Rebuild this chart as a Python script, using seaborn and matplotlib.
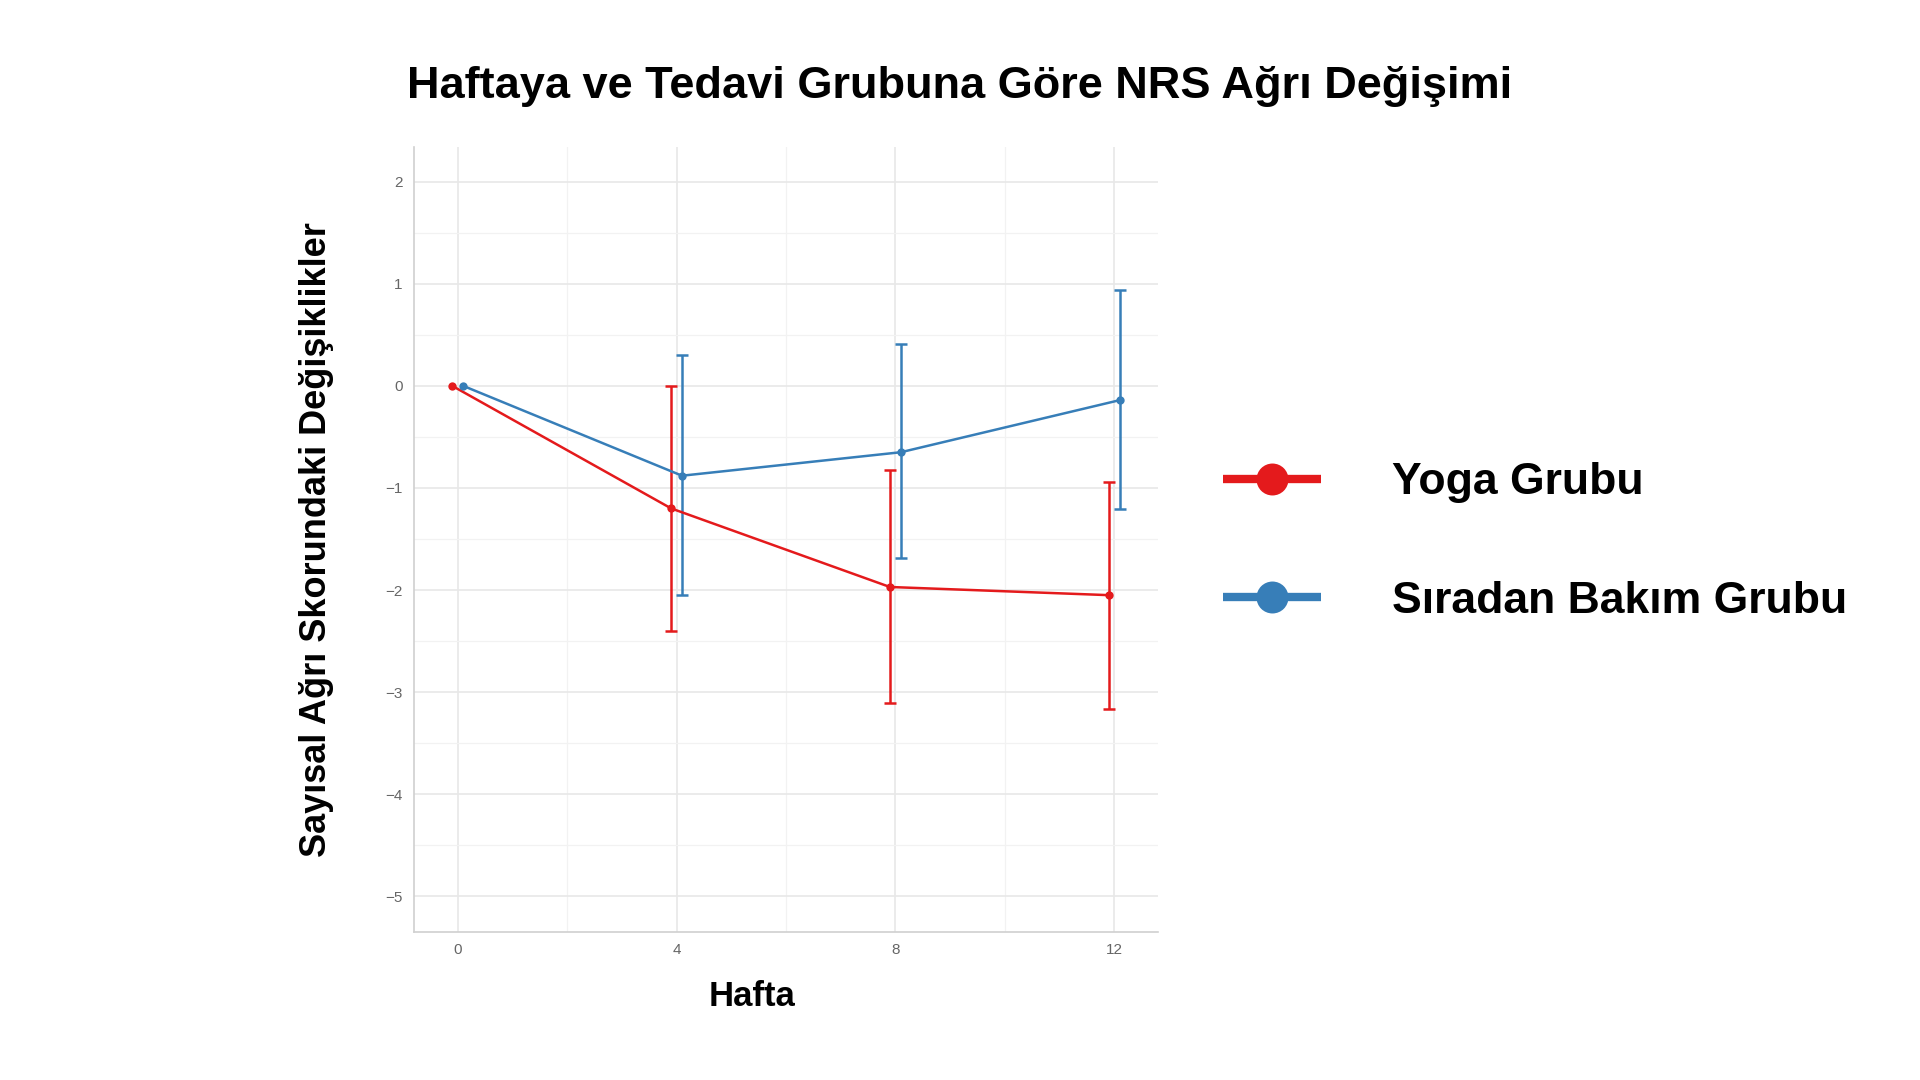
import matplotlib
matplotlib.use("Agg")
import matplotlib.pyplot as plt
from matplotlib.lines import Line2D
import seaborn as sns
import pandas as pd

# values
weeks = [0, 4, 8, 12]
groups = ["Yoga Grubu", "Sıradan Bakım Grubu"]
yoga_mean = [0.0, -1.20, -1.97, -2.05]
yoga_low = [0.0, -2.40, -3.11, -3.17]
yoga_high = [0.0, 0.00, -0.82, -0.94]
care_mean = [0.0, -0.88, -0.65, -0.14]
care_low = [0.0, -2.05, -1.69, -1.21]
care_high = [0.0, 0.30, 0.41, 0.94]

colors = {"Yoga Grubu": "#E41A1C", "Sıradan Bakım Grubu": "#377EB8"}
dodge = {"Yoga Grubu": -0.1, "Sıradan Bakım Grubu": 0.1}

rows = []
for g, m, lo, hi in [(groups[0], yoga_mean, yoga_low, yoga_high),
                     (groups[1], care_mean, care_low, care_high)]:
    for w, mv, l, h in zip(weeks, m, lo, hi):
        rows.append({"Hafta": w, "pos": w + dodge[g], "Grup": g,
                     "mean": mv, "low": l, "high": h})
df = pd.DataFrame(rows)

sns.set_style("white")
plt.rcParams["font.family"] = ["Liberation Sans", "DejaVu Sans"]
plt.rcParams["text.color"] = "black"
plt.rcParams["axes.labelcolor"] = "black"

fig = plt.figure(figsize=(19.2, 10.8), dpi=100)
ax = fig.add_axes([0.2156, 0.137, 0.3875, 0.7269])

sns.lineplot(data=df, x="pos", y="mean", hue="Grup", palette=colors,
             hue_order=groups, marker="o", markersize=6, markeredgewidth=0,
             linewidth=1.8, legend=False, ax=ax, zorder=3)

for g in groups:
    d = df[df["Grup"] == g]
    d = d[d["Hafta"] > 0]
    ax.errorbar(d["pos"], d["mean"],
                yerr=[d["mean"] - d["low"], d["high"] - d["mean"]],
                fmt="none", ecolor=colors[g], elinewidth=1.8,
                capsize=4, capthick=1.8, zorder=2)

ax.set_xlim(-0.8, 12.8)
ax.set_ylim(-5.35, 2.34)
ax.set_xticks(weeks)
ax.set_xticks([2, 6, 10], minor=True)
ax.set_yticks(range(-5, 3))
ax.set_yticks([-4.5, -3.5, -2.5, -1.5, -0.5, 0.5, 1.5], minor=True)
ax.grid(True, which="major", color="#e8e8e8", linewidth=1.2)
ax.grid(True, which="minor", color="#f2f2f2", linewidth=0.9)
ax.set_axisbelow(True)
ax.tick_params(axis="both", which="both", length=0, labelsize=11,
               labelcolor="#666666", pad=8)

for s in ["top", "right"]:
    ax.spines[s].set_visible(False)
for s in ["left", "bottom"]:
    ax.spines[s].set_color("#d0d0d0")
    ax.spines[s].set_linewidth(1.2)

ax.set_xlabel("Hafta", fontsize=25, fontweight="bold")
ax.set_ylabel("Sayısal Ağrı Skorundaki Değişiklikler", fontsize=26,
              fontweight="bold")
ax.xaxis.set_label_coords(0.455, -0.061)
ax.yaxis.set_label_coords(-0.107, 0.5)

fig.text(0.5, 0.920, "Haftaya ve Tedavi Grubuna Göre NRS Ağrı Değişimi",
         ha="center", va="center", fontsize=32.5, fontweight="bold")

handles = [Line2D([0], [0], color=colors[g], linewidth=6, marker="o",
                  markersize=23, markeredgewidth=0, solid_capstyle="butt")
           for g in groups]
leg = fig.legend(handles, groups, loc="center left",
                 bbox_to_anchor=(0.637, 0.498), frameon=False,
                 handlelength=2.2, handletextpad=1.6, labelspacing=1.75,
                 borderpad=0, borderaxespad=0,
                 prop={"size": 32, "weight": "bold"})

fig.savefig("out.png", dpi=100)
